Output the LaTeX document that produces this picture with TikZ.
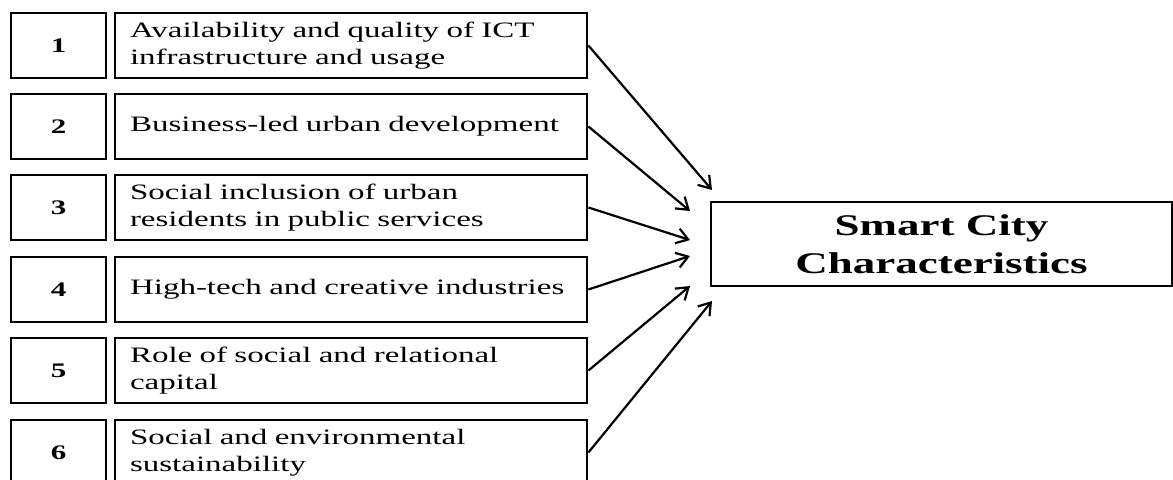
\documentclass[tikz,border=0pt]{standalone}
\usepackage{fontspec}
\setmainfont{Liberation Serif}[FakeStretch=1.5]
\usetikzlibrary{arrows.meta}
\newlength{\du}
\setlength{\du}{15\unitlength}

\begin{document}
\begin{tikzpicture}[yscale=-1,
  numbox/.style={draw=dialinecolor, line width=0.14\du, minimum width=4.75\du, minimum height=3.25\du, inner sep=0pt, font=\fontsize{15.5}{18}\selectfont\bfseries},
  labbox/.style={draw=dialinecolor, line width=0.14\du, minimum height=3.25\du, text width=22.1\du, inner xsep=0.75\du, inner ysep=0pt, align=left, font=\fontsize{16.5}{20.6}\selectfont},
  linkarrow/.style={draw=dialinecolor, line width=0.11\du, -{Straight Barb[length=8.5pt,width=11.5pt]}}]
\definecolor{dialinecolor}{rgb}{0.000000, 0.000000, 0.000000}
\clip (0\du,0\du) rectangle (58.650000\du,23.950000\du);
% numbered boxes
\node[numbox] (num1) at (2.925000\du,2.275000\du){1};
\node[numbox] (num2) at (2.925000\du,6.325000\du){2};
\node[numbox] (num3) at (2.925000\du,10.375000\du){3};
\node[numbox] (num4) at (2.925000\du,14.475000\du){4};
\node[numbox] (num5) at (2.925000\du,18.525000\du){5};
\node[numbox] (num6) at (2.925000\du,22.625000\du){6};
% factor boxes
\node[labbox] (lab1) at (17.550000\du,2.275000\du){Availability and quality of ICT\\infrastructure and usage};
\node[labbox] (lab2) at (17.550000\du,6.325000\du){Business-led urban development};
\node[labbox] (lab3) at (17.550000\du,10.375000\du){Social inclusion of urban\\residents in public services};
\node[labbox] (lab4) at (17.550000\du,14.475000\du){High-tech and creative industries};
\node[labbox] (lab5) at (17.550000\du,18.525000\du){Role of social and relational\\capital};
\node[labbox] (lab6) at (17.550000\du,22.625000\du){Social and environmental\\sustainability};
% target box
\node[draw=dialinecolor, line width=0.14\du, minimum width=23.05\du, minimum height=4.2\du, inner sep=0pt, align=center, font=\fontsize{22.5}{28.5}\selectfont\bfseries] (smart) at (47.075000\du,12.200000\du){Smart City\\Characteristics};
% arrow ends
\coordinate (tip1) at (35.600000\du,9.500000\du);
\coordinate (tip2) at (34.500000\du,10.550000\du);
\coordinate (tip3) at (34.500000\du,12.000000\du);
\coordinate (tip4) at (34.500000\du,12.800000\du);
\coordinate (tip5) at (34.500000\du,14.300000\du);
\coordinate (tip6) at (35.600000\du,15.050000\du);
\draw[linkarrow] (lab1.east)--(tip1);
\draw[linkarrow] (lab2.east)--(tip2);
\draw[linkarrow] (lab3.east)--(tip3);
\draw[linkarrow] (lab4.east)--(tip4);
\draw[linkarrow] (lab5.east)--(tip5);
\draw[linkarrow] (lab6.east)--(tip6);
\end{tikzpicture}
\end{document}
